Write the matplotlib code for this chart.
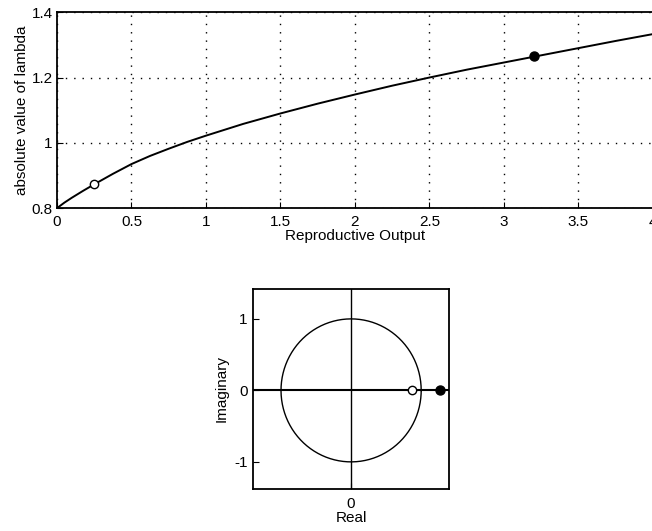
import numpy as np
import matplotlib
matplotlib.use("Agg")
import matplotlib.pyplot as plt

plt.rcParams['font.family'] = ['Liberation Sans', 'DejaVu Sans']

# |lambda| versus reproductive output
repro = [0, 0.05, 0.1, 0.175, 0.25, 0.375, 0.5, 0.625, 0.75, 0.875, 1.0,
         1.25, 1.5, 1.75, 2.0, 2.25, 2.5, 2.75, 3.0, 3.25, 3.5, 3.75, 4.0]
lam_abs = [0.80, 0.817, 0.832, 0.853, 0.873, 0.905, 0.935, 0.960, 0.982,
           1.003, 1.022, 1.058, 1.090, 1.120, 1.148, 1.175, 1.200, 1.224,
           1.246, 1.268, 1.290, 1.312, 1.333]

# highlighted points: (reproductive output, |lambda|)
open_pt = (0.25, 0.873)
filled_pt = (3.2, 1.265)

xticks = [0, 0.5, 1, 1.5, 2, 2.5, 3, 3.5, 4]
xtick_labels = ['0', '0.5', '1', '1.5', '2', '2.5', '3', '3.5', '4']
yticks = [0.8, 1.0, 1.2, 1.4]
ytick_labels = ['0.8', '1', '1.2', '1.4']

fig = plt.figure(figsize=(6.52, 5.31), dpi=100)

# ---- top plot ----
ax1 = fig.add_axes([0.0874, 0.608, 0.914, 0.369])
ax1.plot(repro, lam_abs, color='black', lw=1.4)
ax1.plot(*open_pt, 'o', mfc='white', mec='black', ms=6, mew=1)
ax1.plot(*filled_pt, 'o', color='black', ms=6.5)
ax1.set_xlim(0, 4)
ax1.set_ylim(0.8, 1.4)
ax1.set_xticks(xticks)
ax1.set_xticklabels(xtick_labels)
ax1.set_yticks(yticks)
ax1.set_yticklabels(ytick_labels)
ax1.grid(True, color='black', linestyle=(0, (1, 5)), lw=1)
ax1.tick_params(direction='in', length=4, labelsize=11, pad=3)
ax1.tick_params(axis='x', pad=5)
ax1.set_xlabel('Reproductive Output', fontsize=11, labelpad=0)
ax1.set_ylabel('absolute value of lambda', fontsize=11, labelpad=2)
for s in ax1.spines.values():
    s.set_linewidth(1.3)

# ---- bottom plot: unit circle and eigenvalues ----
ax2 = fig.add_axes([0.388, 0.079, 0.301, 0.377])
theta = np.linspace(0, 2 * np.pi, 400)
ax2.plot(np.cos(theta), np.sin(theta), color='black', lw=1)
ax2.axhline(0, color='black', lw=1.5)
ax2.axvline(0, color='black', lw=1)
ax2.plot(open_pt[1], 0, 'o', mfc='white', mec='black', ms=6, mew=1)
ax2.plot(filled_pt[1], 0, 'o', color='black', ms=6.5)
ax2.set_xlim(-1.4, 1.4)
ax2.set_ylim(-1.38, 1.42)
ax2.set_xticks([0])
ax2.set_xticklabels(['0'])
ax2.set_yticks([-1, 0, 1])
ax2.set_yticklabels(['-1', '0', '1'])
ax2.tick_params(direction='in', length=4, labelsize=11, pad=4)
ax2.tick_params(axis='x', pad=6)
ax2.set_xlabel('Real', fontsize=11, labelpad=0)
ax2.set_ylabel('Imaginary', fontsize=11, labelpad=4)
for s in ax2.spines.values():
    s.set_linewidth(1.3)

fig.savefig('out.png', dpi=100)
